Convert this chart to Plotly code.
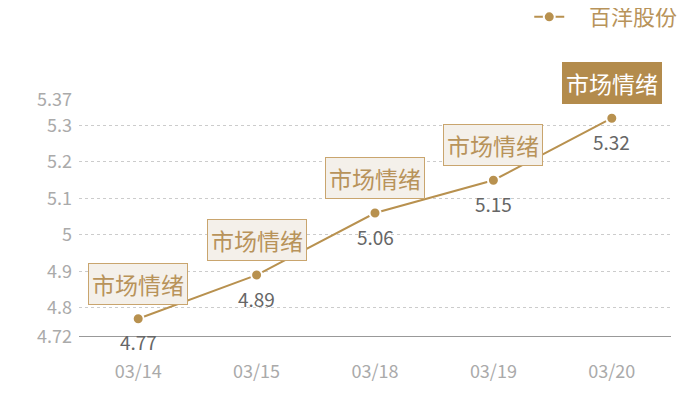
import plotly.graph_objects as go

dates = ["03/14", "03/15", "03/18", "03/19", "03/20"]
values = [4.77, 4.89, 5.06, 5.15, 5.32]
series_name = "百洋股份"
note_text = "市场情绪"
y_ticks = [4.72, 4.8, 4.9, 5, 5.1, 5.2, 5.3, 5.37]

gold = "#b8914f"
font_family = "Noto Sans CJK SC, Noto Sans, sans-serif"

fig = go.Figure()
fig.add_trace(go.Scatter(
    x=dates, y=values, name="\u00a0\u00a0\u00a0\u00a0" + series_name,
    mode="lines+markers",
    line=dict(color=gold, width=2),
    marker=dict(color=gold, size=11, line=dict(color="white", width=2)),
    cliponaxis=False,
))

for i, (d, v) in enumerate(zip(dates, values)):
    last = i == len(dates) - 1
    fig.add_annotation(
        x=d, y=v, xref="x", yref="y", text=note_text, showarrow=False,
        yshift=35,
        font=dict(size=23, color="white" if last else "#b8935a", family=font_family),
        bgcolor="#b38b4c" if last else "#f4f0ea",
        bordercolor="#b38b4c" if last else "#c9a56e",
        borderwidth=1, borderpad=3,
    )
    fig.add_annotation(
        x=d, y=v, xref="x", yref="y", text=str(v), showarrow=False,
        yshift=-23,
        font=dict(size=19, color="#666666", family=font_family),
    )

fig.update_layout(
    width=700, height=400,
    margin=dict(l=71, r=37, t=92, b=71, autoexpand=False),
    plot_bgcolor="white", paper_bgcolor="white",
    font=dict(family=font_family),
    showlegend=True,
    legend=dict(orientation="h", x=1.019, xanchor="right", y=1.35, yanchor="middle",
                font=dict(size=22, color="#b8935a", family=font_family),
                bgcolor="rgba(0,0,0,0)"),
    xaxis=dict(
        type="category", range=[-0.5, 4.5], showgrid=False, zeroline=False, showline=False,
        ticks="", tickfont=dict(size=18, color="#aaaaaa"), ticklabelstandoff=22,
    ),
    yaxis=dict(
        range=[4.72, 5.37], tickvals=y_ticks, ticktext=[str(t) for t in y_ticks],
        showgrid=True, gridcolor="#cccccc", griddash="dot", gridwidth=1,
        zeroline=False, showline=False, ticks="",
        tickfont=dict(size=18, color="#aaaaaa"), ticklabelstandoff=6,
    ),
)
fig.add_shape(type="line", xref="paper", yref="y", x0=0, x1=1, y0=4.72, y1=4.72,
              line=dict(color="#333333", width=1))

fig.write_html("out.html")
